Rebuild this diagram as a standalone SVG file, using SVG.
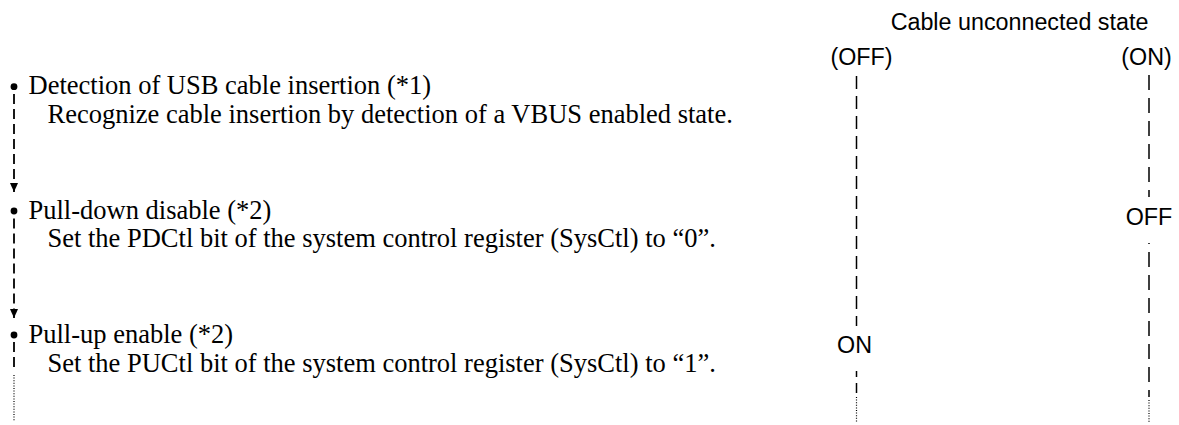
<svg xmlns="http://www.w3.org/2000/svg" width="1179" height="425" viewBox="0 0 1179 425">
  <style>
    .step { font-family: "Liberation Serif", "Times New Roman", serif; font-size: 26.5px; fill: #000; }
    .state { font-family: "Liberation Sans", Arial, sans-serif; font-size: 23.3px; fill: #000; text-anchor: middle; }
    .bullet { fill: #000; }
    .flow { stroke: #000; stroke-width: 1.8; fill: none; stroke-dasharray: 10 5; }
    .lane { stroke: #000; stroke-width: 1.5; fill: none; }
    .lane-a { stroke-dasharray: 13 7; }
    .lane-b { stroke-dasharray: 15 8; }
    .dots { stroke: #000; stroke-width: 1.2; fill: none; stroke-dasharray: 1 1.6; }
  </style>
  <defs>
    <marker id="arrow" markerUnits="userSpaceOnUse" markerWidth="9" markerHeight="8" refX="9" refY="4" orient="auto">
      <path d="M0,0 L9,4 L0,8 z" fill="#000"/>
    </marker>
  </defs>
  <rect width="1179" height="425" fill="#fff"/>

  <!-- Procedure steps -->
  <g id="step-cable-insertion">
    <circle class="bullet" cx="14" cy="86.7" r="3.4"/>
    <text class="step" x="28.5" y="94">Detection of USB cable insertion (*1)</text>
    <text class="step" x="47.5" y="123">Recognize cable insertion by detection of a VBUS enabled state.</text>
  </g>
  <g id="step-pull-down-disable">
    <circle class="bullet" cx="14" cy="211" r="3.4"/>
    <text class="step" x="28.5" y="218.5">Pull-down disable (*2)</text>
    <text class="step" x="47.5" y="247">Set the PDCtl bit of the system control register (SysCtl) to “0”.</text>
  </g>
  <g id="step-pull-up-enable">
    <circle class="bullet" cx="14" cy="335" r="3.4"/>
    <text class="step" x="28.5" y="342.5">Pull-up enable (*2)</text>
    <text class="step" x="47.5" y="372">Set the PUCtl bit of the system control register (SysCtl) to “1”.</text>
  </g>

  <!-- Signal state lanes -->
  <g id="lane-title">
    <text class="state" x="1019.5" y="30">Cable unconnected state</text>
  </g>
  <g id="lane-pull-up">
    <text class="state" x="861.5" y="65">(OFF)</text>
    <text class="state" x="854.5" y="353">ON</text>
  </g>
  <g id="lane-pull-down">
    <text class="state" x="1146.5" y="65">(ON)</text>
    <text class="state" x="1149" y="225">OFF</text>
  </g>

  <!-- Connectors -->
  <g id="connectors">
    <line class="flow" x1="14" y1="94" x2="14" y2="192" marker-end="url(#arrow)"/>
    <line class="flow" x1="14" y1="218.5" x2="14" y2="318" marker-end="url(#arrow)"/>
    <line class="flow" x1="14" y1="342" x2="14" y2="370"/>
    <line class="dots" x1="14" y1="375" x2="14" y2="421"/>

    <line class="lane lane-a" x1="856.5" y1="76" x2="856.5" y2="326"/>
    <line class="lane" x1="856.5" y1="371" x2="856.5" y2="393" style="stroke-dasharray: 6 6 10 4"/>
    <line class="dots" x1="856.5" y1="397" x2="856.5" y2="423"/>

    <line class="lane lane-b" x1="1149" y1="75" x2="1149" y2="197"/>
    <line class="lane lane-b" x1="1149" y1="243" x2="1149" y2="397" style="stroke-dashoffset: 14"/>
    <line class="dots" x1="1149" y1="400" x2="1149" y2="423"/>
  </g>
</svg>
